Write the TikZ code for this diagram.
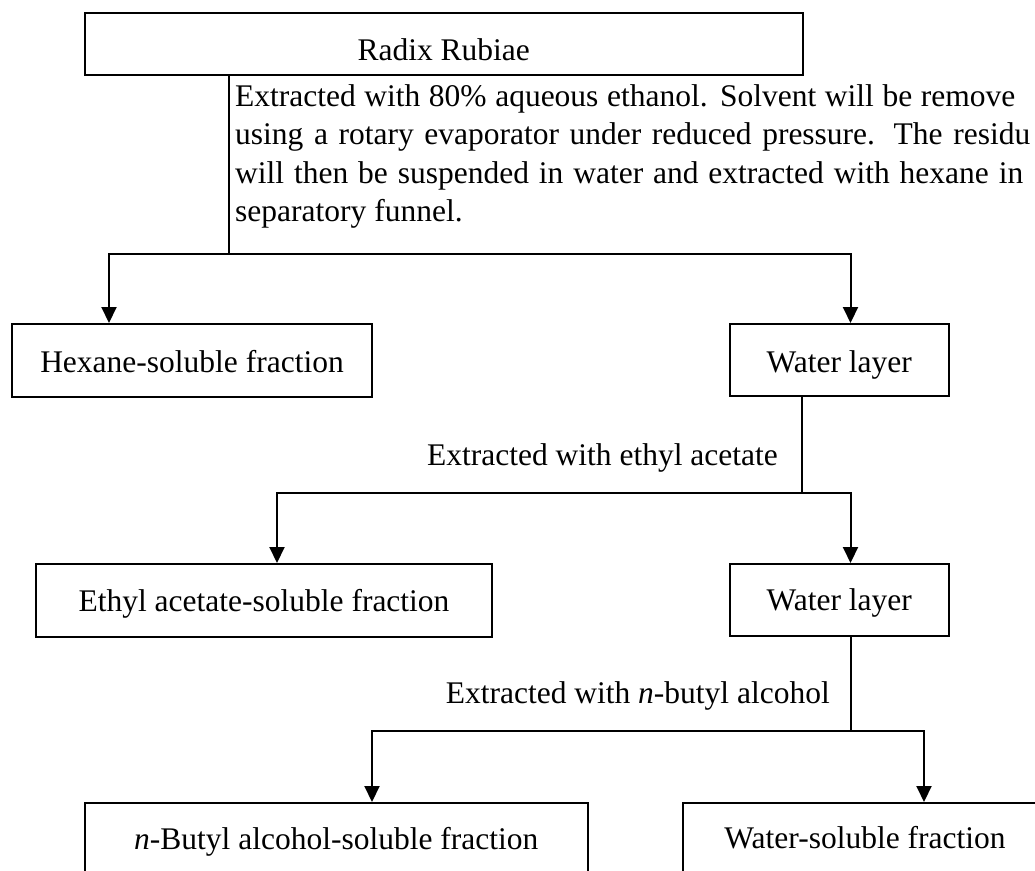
\documentclass[tikz,border=0pt]{standalone}
\usepackage{fontspec}
\setmainfont{Liberation Serif}
\usetikzlibrary{arrows.meta}
\tikzset{
  fx/.style={font=\fontsize{31.5}{38.5}\selectfont},
  boxnode/.style={fx, draw, line width=2pt, inner sep=0pt, text depth=0pt, align=center},
  txt/.style={fx, inner sep=0pt},
  conn/.style={line width=2pt},
  arr/.style={line width=2pt, -{Triangle[length=16pt,width=15pt]}}
}
\newcommand{\jline}[2]{\makebox[#1][s]{#2}}
\begin{document}
\begin{tikzpicture}[x=1pt,y=-1pt]
\useasboundingbox (0,0) rectangle (1035,870);
\clip (0,0) rectangle (1035,870);
\fill[white] (0,0) rectangle (1035,870);
% boxes
\node[boxnode, minimum width=718.5pt, minimum height=62pt, text height=32pt] (radix) at (443.75,44) {Radix Rubiae};
\node[boxnode, minimum width=360pt, minimum height=73pt, text height=24.4pt] (hex) at (192,360.5) {Hexane-soluble fraction};
\node[boxnode, minimum width=218.5pt, minimum height=72pt, text height=25pt] (w1) at (839.25,360) {Water layer};
\node[boxnode, minimum width=456pt, minimum height=73pt, text height=21pt] (ethyl) at (264,600.5) {Ethyl acetate-soluble fraction};
\node[boxnode, minimum width=218.5pt, minimum height=72pt, text height=20pt] (w2) at (839.25,600) {Water layer};
\node[boxnode, minimum width=503.5pt, minimum height=73pt, text height=19pt] (nbut) at (336.25,839.5) {\textit{n}-Butyl alcohol-soluble fraction};
\node[boxnode, minimum width=364pt, minimum height=73pt, text height=17pt] (wsol) at (865,839.5) {Water-soluble fraction};
% paragraph
\node[txt, anchor=base west] (p1) at (235,106) {\jline{780pt}{Extracted with 80\% aqueous ethanol. Solvent will be remove}};
\node[txt, anchor=base west] (p2) at (235,144.5) {\jline{795pt}{using a rotary evaporator under reduced pressure. The residu}};
\node[txt, anchor=base west] (p3) at (235,183) {\jline{788pt}{will then be suspended in water and extracted with hexane in}};
\node[txt, anchor=base west] (p4) at (235,221.5) {separatory funnel.};
% mid labels
\node[txt, anchor=base east] (lab1) at (778,465) {Extracted with ethyl acetate};
\node[txt, anchor=base east] (lab2) at (830,703) {Extracted with \textit{n}-butyl alcohol};
% junctions
\coordinate (j1) at (229,253.5);
\coordinate (l1) at (109,253.5);
\coordinate (r1) at (850.5,253.5);
\coordinate (j2) at (802,492.7);
\coordinate (l2) at (277,492.7);
\coordinate (r2) at (850.5,492.7);
\coordinate (j3) at (850.5,730.7);
\coordinate (l3) at (372,730.7);
\coordinate (r3) at (924,730.7);
% connectors
\draw[conn] (radix.south -| j1) -- (j1);
\draw[arr] (j1) -- (l1) -- (l1 |- hex.north);
\draw[arr] (j1) -- (r1) -- (r1 |- w1.north);
\draw[conn] (w1.south -| j2) -- (j2);
\draw[arr] (j2) -- (l2) -- (l2 |- ethyl.north);
\draw[arr] (j2) -- (r2) -- (r2 |- w2.north);
\draw[conn] (w2.south -| j3) -- (j3);
\draw[arr] (j3) -- (l3) -- (l3 |- nbut.north);
\draw[arr] (j3) -- (r3) -- (r3 |- wsol.north);
\end{tikzpicture}
\end{document}
